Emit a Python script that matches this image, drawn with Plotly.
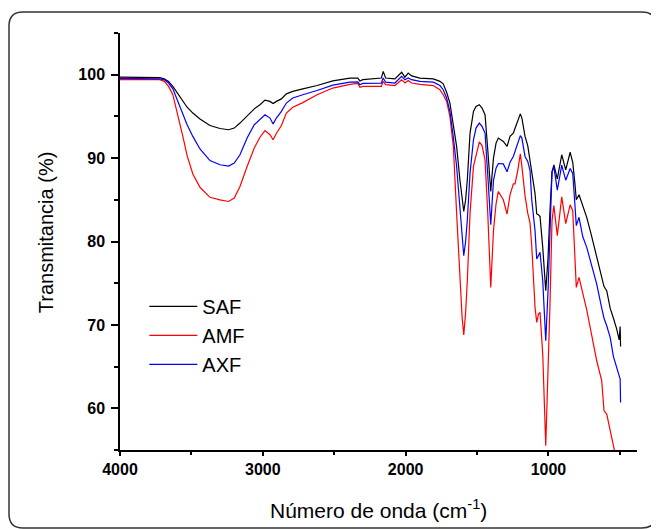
import plotly.graph_objects as go

# wavenumber grid (cm-1)
wavenumber = [4000, 3800, 3722, 3690, 3660, 3630, 3600, 3560, 3530, 3490, 3440, 3370,
              3300, 3240, 3200, 3160, 3110, 3060, 3020, 2985, 2950, 2928, 2905, 2870,
              2835, 2790, 2720, 2620, 2510, 2390, 2335, 2320, 2300, 2170, 2157, 2140,
              2075, 2028, 2005, 1982, 1958, 1900, 1806, 1760, 1737, 1713, 1690, 1678,
              1666, 1643, 1620, 1605, 1593, 1580, 1568, 1549, 1525, 1507, 1484, 1465,
              1444, 1425, 1404, 1385, 1367, 1351, 1316, 1290, 1269, 1246, 1234, 1215,
              1197, 1186, 1164, 1145, 1129, 1117, 1106, 1094, 1082, 1070, 1059, 1040,
              1019, 1003, 990, 975, 962, 938, 907, 879, 848, 830, 815, 805, 786, 760,
              732, 700, 662, 627, 611, 592, 568, 545, 522, 505, 498, 495]

saf = [99.7, 99.7, 99.65, 99.5, 99.2, 98.6, 97.8, 96.8, 96.1, 95.4, 94.7, 93.9,
       93.55, 93.4, 93.6, 94.2, 95.0, 95.9, 96.4, 96.95, 96.8, 96.55, 96.8, 97.1,
       97.7, 98.0, 98.3, 98.7, 99.25, 99.6, 99.6, 99.25, 99.4, 99.6, 100.4, 99.6,
       99.5, 100.3, 99.7, 100.2, 99.85, 99.6, 99.5, 99.2, 98.9, 97.9, 96.6, 95.4,
       94.2, 91.4, 87.4, 85.3, 83.6, 85.0, 87.4, 93.0, 95.6, 96.2, 96.4, 96.0,
       95.2, 91.0, 86.0, 90.0, 91.8, 92.4, 92.0, 91.4, 92.6, 93.0, 93.6, 94.3,
       95.3, 94.8, 92.6, 91.5, 89.8, 88.5, 87.0, 85.75, 83.3, 83.2, 83.0, 79.3,
       74.1, 78.0, 83.5, 88.3, 89.2, 87.5, 90.4, 88.6, 90.7, 89.5, 87.0, 85.0, 85.6, 84.2,
       82.9, 80.8, 78.1, 75.6, 74.6, 74.1, 72.0, 70.8, 69.5, 68.2, 69.8, 67.4]

amf = [99.4, 99.4, 99.4, 99.2, 98.6, 97.6, 95.6, 92.6, 90.3, 88.1, 86.5, 85.3,
       85.0, 84.8, 85.2, 86.6, 89.0, 91.2, 92.5, 93.3, 92.8, 92.2, 92.95, 93.9,
       95.4, 96.1, 96.65, 97.6, 98.4, 98.85, 98.95, 98.5, 98.6, 98.6, 99.2, 98.8,
       98.7, 99.4, 99.0, 99.3, 99.0, 98.85, 98.7, 98.2, 97.6, 96.8, 95.0, 93.5,
       91.4, 83.4, 75.3, 71.0, 68.8, 71.5, 75.3, 83.4, 89.0, 90.4, 91.95, 91.5,
       89.8, 83.4, 74.5, 81.3, 84.5, 86.0, 85.0, 83.3, 85.6, 86.9, 86.9, 88.5,
       90.5, 89.0, 85.5, 83.4, 82.2, 79.5, 75.0, 72.1, 70.3, 71.3, 71.5, 66.5,
       55.5, 64.0, 72.0, 82.5, 84.3, 80.7, 85.35, 82.15, 84.4, 83.7, 78.0, 74.5, 75.7, 73.8,
       71.8, 69.0, 65.7, 63.3, 59.7, 59.3, 57.3, 55.5, 53.5, 52.5, 52.0, 51.5]

axf = [99.55, 99.55, 99.5, 99.4, 99.0, 98.3, 97.0, 95.2, 94.0, 92.6, 91.1, 89.7,
       89.2, 89.05, 89.4, 90.4, 92.4, 94.0, 94.6, 95.2, 94.8, 94.1, 94.8, 95.6,
       96.6, 97.2, 97.6, 98.1, 98.75, 99.1, 99.15, 98.8, 98.95, 99.0, 99.6, 99.1,
       99.0, 99.8, 99.4, 99.6, 99.4, 99.2, 99.1, 98.7, 98.2, 97.2, 95.6, 94.2,
       92.5, 89.0, 83.5, 80.0, 78.3, 80.0, 82.6, 88.2, 92.2, 93.6, 94.2, 93.8,
       93.0, 88.0, 82.0, 87.3, 88.8, 89.35, 89.3, 88.35, 89.5, 90.2, 90.8, 91.7,
       92.7, 92.4, 90.2, 89.6, 88.5, 85.0, 83.0, 81.3, 77.9, 78.3, 78.7, 75.3,
       68.1, 74.0, 81.0, 88.4, 88.95, 86.15, 89.15, 87.35, 88.75, 88.15, 84.5, 81.9, 82.9, 80.6,
       79.3, 77.2, 74.9, 72.0, 70.8, 69.9, 68.5, 66.2, 64.9, 63.7, 63.5, 60.7]

names = ["SAF", "AMF", "AXF"]
colors = ["#000000", "#ff0000", "#0000ff"]

# the page body adds an 8px margin, so the figure starts at (8, 8):
# size it to reach the window's right/bottom edge and lay out 8px up/left
OFF = 8
W, H = 659 - OFF, 529 - OFF
L, T = 120 - OFF, 33 - OFF
R = W - (637 - OFF)
B = H - (449.6 - OFF)


def px(x, y):
    # page pixel position -> paper coordinates
    x, y = x - OFF, y - OFF
    return (x - L) / (W - L - R), 1 - (y - T) / (H - T - B)


fig = go.Figure()
for name, vals, col in zip(names, [saf, amf, axf], colors):
    fig.add_trace(go.Scatter(x=wavenumber, y=vals, name=name, mode="lines",
                             line=dict(color=col, width=1.2)))

# rounded frame around the whole picture
x0, y0, x1, y1, r = 9, 12, 656, 527.5, 14
pts = []
pts.append("M%f,%f" % px(x0 + r, y0))
pts.append("L%f,%f" % px(x1 - r, y0))
pts.append("Q%f,%f %f,%f" % (px(x1, y0) + px(x1, y0 + r)))
pts.append("L%f,%f" % px(x1, y1 - r))
pts.append("Q%f,%f %f,%f" % (px(x1, y1) + px(x1 - r, y1)))
pts.append("L%f,%f" % px(x0 + r, y1))
pts.append("Q%f,%f %f,%f" % (px(x0, y1) + px(x0, y1 - r)))
pts.append("L%f,%f" % px(x0, y0 + r))
pts.append("Q%f,%f %f,%f" % (px(x0, y0) + px(x0 + r, y0)))
fig.add_shape(type="path", path=" ".join(pts) + " Z", xref="paper", yref="paper",
              line=dict(color="#333333", width=1.5), layer="below")

font = "Arial, Liberation Sans, sans-serif"
tickfont = dict(family=font, size=16, color="black", weight="bold")
fig.update_xaxes(range=[4000, 380], dtick=1000, tick0=0, ticks="outside", ticklen=4,
                 tickwidth=1.5, tickcolor="black", showline=True, linecolor="black",
                 linewidth=1.5, showgrid=False, zeroline=False, tickfont=tickfont,
                 minor=dict(dtick=500, ticks="outside", ticklen=3, tickcolor="black", tickwidth=1.5))
fig.update_yaxes(range=[55, 105], dtick=10, tick0=0, ticks="outside", ticklen=7,
                 tickwidth=1.5, tickcolor="black", showline=True, linecolor="black",
                 linewidth=1.5, showgrid=False, zeroline=False, tickfont=tickfont,
                 ticklabelstandoff=3,
                 minor=dict(dtick=5, ticks="outside", ticklen=4, tickcolor="black", tickwidth=1.5))

xt = px(378, 509)
yt = px(46, 232)
fig.add_annotation(text="Número de onda (cm<sup>-1</sup>)", xref="paper", yref="paper",
                   x=xt[0], y=xt[1], xanchor="center", yanchor="middle", showarrow=False,
                   font=dict(family=font, size=21, color="black"))
fig.add_annotation(text="Transmitancia (%)", xref="paper", yref="paper", textangle=-90,
                   x=yt[0], y=yt[1], xanchor="center", yanchor="middle", showarrow=False,
                   font=dict(family=font, size=20, color="black"))

fig.update_layout(width=W, height=H, margin=dict(l=L, r=R, t=T, b=B),
                  paper_bgcolor="white", plot_bgcolor="white",
                  legend=dict(x=0.047, y=0.391, xanchor="left", yanchor="top",
                              bgcolor="rgba(0,0,0,0)", itemwidth=48,
                              font=dict(family=font, size=20, color="black")))

fig.write_html("out.html")
